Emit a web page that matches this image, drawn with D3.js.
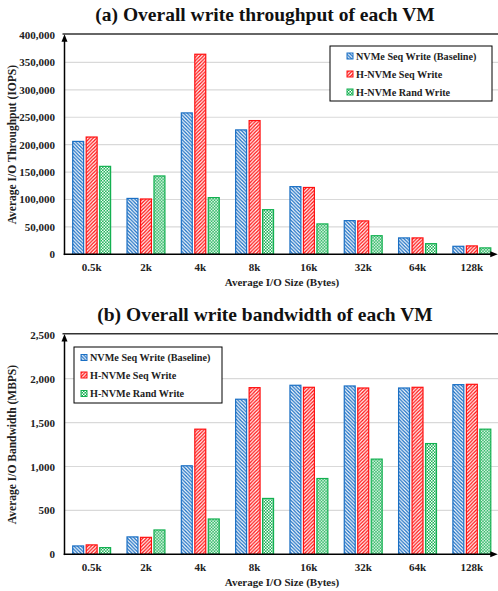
<!DOCTYPE html>
<html>
<head>
<meta charset="utf-8">
<script src="https://cdn.jsdelivr.net/npm/d3@7"></script>
<style>
  body { margin: 0; background: #fff; }
  svg text { font-family: "Liberation Serif", "Times New Roman", serif; font-weight: bold; fill: #222; }
</style>
</head>
<body>
<svg id="chart" width="498" height="591"></svg>
<script>
// I/O sizes along the x axis
const sizes = ["0.5k", "2k", "4k", "8k", "16k", "32k", "64k", "128k"];
const seriesNames = ["NVMe Seq Write (Baseline)", "H-NVMe Seq Write", "H-NVMe Rand Write"];

// (a) throughput, IOPS
const iopsBaseline = [207000, 103000, 259000, 228000, 124500, 62500, 31000, 15700];
const iopsSeq      = [215000, 102000, 366000, 245000, 123000, 62000, 31000, 16400];
const iopsRand     = [161500, 144000, 104500, 82500, 56500, 35000, 20500, 12800];
const iopsTicks = [0, 50000, 100000, 150000, 200000, 250000, 300000, 350000, 400000];

// (b) bandwidth, MBPS
const bwBaseline = [102, 205, 1015, 1773, 1932, 1924, 1901, 1939];
const bwSeq      = [114, 200, 1432, 1905, 1909, 1901, 1909, 1943];
const bwRand     = [83, 284, 409, 643, 870, 1091, 1268, 1432];
const bwTicks = [0, 500, 1000, 1500, 2000, 2500];

const colors = ["#1a6fc4", "#ff1010", "#12b050"];
const svg = d3.select("#chart");
const defs = svg.append("defs");

// hatch patterns: "\\\" blue, "///" red, checker green
function makePatterns() {
    let p0 = defs.append("pattern").attr("id", "pat0").attr("patternUnits", "userSpaceOnUse")
        .attr("width", 3.5).attr("height", 3.5);
    p0.append("rect").attr("width", 3.5).attr("height", 3.5).attr("fill", colors[0]);
    p0.append("path").attr("d", "M-1,-1L4.5,4.5M-1,2.5L1,4.5M2.5,-1L4.5,1")
        .attr("stroke", "#fff").attr("stroke-width", 1.2);

    let p1 = defs.append("pattern").attr("id", "pat1").attr("patternUnits", "userSpaceOnUse")
        .attr("width", 3.5).attr("height", 3.5);
    p1.append("rect").attr("width", 3.5).attr("height", 3.5).attr("fill", colors[1]);
    p1.append("path").attr("d", "M-1,4.5L4.5,-1M-1,1L1,-1M2.5,4.5L4.5,2.5")
        .attr("stroke", "#fff").attr("stroke-width", 1.2);

    let p2 = defs.append("pattern").attr("id", "pat2").attr("patternUnits", "userSpaceOnUse")
        .attr("width", 3).attr("height", 3);
    p2.append("rect").attr("width", 3).attr("height", 3).attr("fill", colors[2]);
    p2.append("rect").attr("width", 1.5).attr("height", 1.5).attr("fill", "#fff");
    p2.append("rect").attr("x", 1.5).attr("y", 1.5).attr("width", 1.5).attr("height", 1.5).attr("fill", "#fff");
}
makePatterns();

defs.append("marker").attr("id", "arrow").attr("viewBox", "0 0 10 10")
    .attr("refX", 5).attr("refY", 5).attr("markerWidth", 5).attr("markerHeight", 5)
    .attr("orient", "auto")
    .append("path").attr("d", "M0,1L10,5L0,9Z").attr("fill", "#000");

/**
 * Draws one grouped bar panel
 */
function drawPanel(opt) {
    const g = svg.append("g");
    const left = 64.5, right = 499;

    const x = d3.scaleBand().domain(sizes).range([left, right]).paddingInner(0.28).paddingOuter(0.14);
    const xs = d3.scaleBand().domain(d3.range(3)).range([0, x.bandwidth()]).paddingInner(0.1);
    const y = d3.scaleLinear().domain([0, opt.ticks[opt.ticks.length - 1]]).range([opt.bottom, opt.top]);

    // title
    g.append("text").attr("x", 265).attr("y", opt.titleY).attr("text-anchor", "middle")
        .style("font-size", "19.5px").style("fill", "#111").text(opt.title);

    // gridlines
    g.selectAll(".grid").data(opt.ticks.slice(1, -1)).enter().append("line")
        .attr("x1", left).attr("x2", 498).attr("y1", d => y(d)).attr("y2", d => y(d))
        .attr("stroke", "#d9d9d9").attr("stroke-width", 1.2);
    // top border
    g.append("line").attr("x1", left - 2).attr("x2", 498)
        .attr("y1", y(opt.ticks[opt.ticks.length - 1]) - 1).attr("y2", y(opt.ticks[opt.ticks.length - 1]) - 1)
        .attr("stroke", "#333").attr("stroke-width", 1.4);

    // y tick labels
    g.selectAll(".ytick").data(opt.ticks).enter().append("text")
        .attr("x", 55).attr("y", d => y(d) + 4).attr("text-anchor", "end")
        .style("font-size", "11px").text(d => d3.format(",")(d));

    // bars
    const groups = g.selectAll(".grp").data(sizes).enter().append("g")
        .attr("transform", d => `translate(${x(d)},0)`);
    groups.selectAll("rect").data((d, i) => opt.series.map((s, k) => ({ k: k, v: s[i] })))
        .enter().append("rect")
        .attr("x", d => xs(d.k) + 0.6).attr("width", xs.bandwidth() - 1.2)
        .attr("y", d => y(d.v) + 0.6).attr("height", d => Math.max(0, opt.bottom - y(d.v) - 0.6))
        .attr("fill", d => `url(#pat${d.k})`).attr("stroke", d => colors[d.k]).attr("stroke-width", 1.2);

    // axes with arrows
    g.append("line").attr("x1", left).attr("x2", left).attr("y1", opt.bottom + 0.8).attr("y2", opt.top + 3)
        .attr("stroke", "#000").attr("stroke-width", 1.5).attr("marker-end", "url(#arrow)");
    g.append("line").attr("x1", left - 0.8).attr("x2", 494).attr("y1", opt.bottom).attr("y2", opt.bottom)
        .attr("stroke", "#000").attr("stroke-width", 1.5).attr("marker-end", "url(#arrow)");

    // category labels
    g.selectAll(".xtick").data(sizes).enter().append("text")
        .attr("x", d => x(d) + x.bandwidth() / 2).attr("y", opt.bottom + 17).attr("text-anchor", "middle")
        .style("font-size", "11px").text(d => d);

    g.append("text").attr("x", 282).attr("y", opt.bottom + 31.5).attr("text-anchor", "middle")
        .style("font-size", "11px").text("Average I/O Size (Bytes)");

    g.append("text").attr("transform", `translate(16,${(opt.top + opt.bottom) / 2}) rotate(-90)`)
        .attr("text-anchor", "middle").style("font-size", "11.5px").text(opt.yLabel);

    // legend
    const lg = g.append("g").attr("transform", `translate(${opt.legend[0]},${opt.legend[1]})`);
    lg.append("rect").attr("width", opt.legend[2]).attr("height", opt.legend[3])
        .attr("fill", "#fff").attr("stroke", "#000").attr("stroke-width", 1);
    seriesNames.forEach((name, k) => {
        const ry = opt.legendRows[k];
        lg.append("rect").attr("x", opt.legendSw).attr("y", ry - 3).attr("width", 6).attr("height", 6)
            .attr("fill", `url(#pat${k})`).attr("stroke", colors[k]).attr("stroke-width", 1);
        lg.append("text").attr("x", opt.legendSw + 9).attr("y", ry + 3.5)
            .style("font-size", "10.2px").text(name);
    });
}

drawPanel({
    title: "(a) Overall write throughput of each VM", titleY: 20.5,
    top: 35, bottom: 254.3, ticks: iopsTicks,
    series: [iopsBaseline, iopsSeq, iopsRand],
    yLabel: "Average I/O Throughput (IOPS)",
    legend: [330, 46, 162, 55], legendSw: 17, legendRows: [10, 28, 46]
});

drawPanel({
    title: "(b) Overall write bandwidth of each VM", titleY: 320.5,
    top: 334.8, bottom: 554.3, ticks: bwTicks,
    series: [bwBaseline, bwSeq, bwRand],
    yLabel: "Average I/O Bandwidth (MBPS)",
    legend: [74, 347, 148, 56], legendSw: 7, legendRows: [10.5, 28, 46.5]
});
</script>
</body>
</html>
